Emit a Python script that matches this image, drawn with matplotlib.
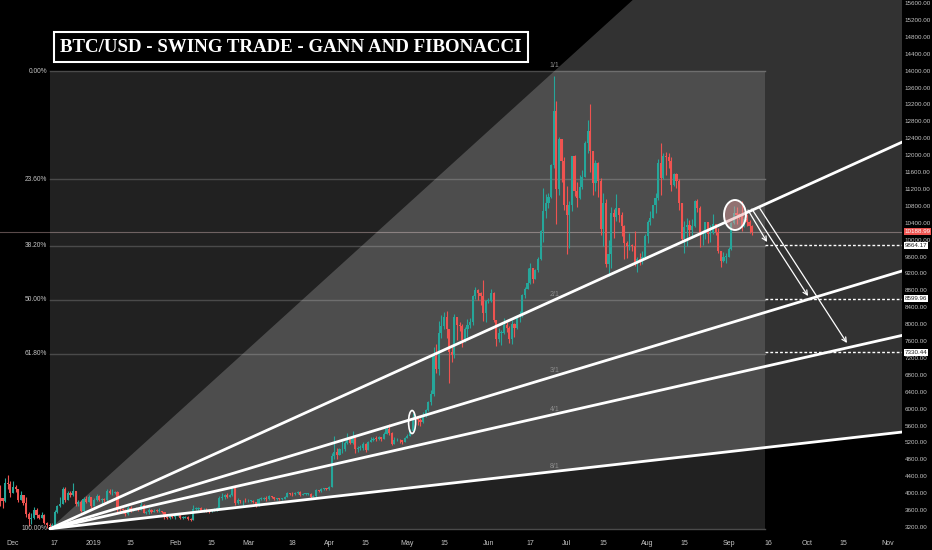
import numpy as np
import pandas as pd
import matplotlib
matplotlib.use("Agg")
import matplotlib.pyplot as plt
from matplotlib.patches import Rectangle, Polygon, Ellipse

plt.rcParams['font.family'] = ['Liberation Sans', 'DejaVu Sans']

# BTC/USD daily candles, 2018-11-26 .. 2019-09-10 (open = previous close)
start_open = 3930
close_nov = [3880, 3820, 4250, 4220, 4000]
high_nov = [4190, 3890, 4370, 4420, 4300]
low_nov = [3700, 3660, 3800, 4100, 3900]

close_dec = [4150, 4100, 3840, 3950, 3760, 3500, 3400, 3420, 3600, 3480,
             3420, 3480, 3300, 3250, 3220, 3240, 3550, 3700, 3750, 4100,
             3850, 4000, 3950, 4050, 3750, 3800, 3580, 3870, 3800, 3900, 3700]
high_dec = [4300, 4200, 4110, 4060, 3960, 3900, 3550, 3520, 3680, 3650,
            3510, 3550, 3500, 3320, 3290, 3300, 3600, 3720, 3900, 4140,
            4150, 4040, 4060, 4240, 4050, 3840, 3830, 3900, 3940, 3950, 3920]
low_dec = [4060, 4020, 3800, 3840, 3720, 3440, 3230, 3280, 3400, 3420,
           3380, 3420, 3270, 3180, 3160, 3200, 3220, 3520, 3680, 3740,
           3790, 3850, 3910, 3930, 3700, 3690, 3560, 3560, 3770, 3780, 3650]

close_jan = [3850, 3940, 3840, 3860, 3830, 4040, 4000, 4000, 4020, 3630,
             3620, 3600, 3500, 3660, 3580, 3620, 3650, 3610, 3720, 3540,
             3550, 3600, 3560, 3590, 3580, 3580, 3550, 3440, 3410, 3460, 3440]
high_jan = [3880, 3980, 3950, 3890, 3890, 4100, 4110, 4110, 4060, 4040,
            3700, 3650, 3620, 3700, 3690, 3660, 3680, 3660, 3780, 3740,
            3580, 3640, 3620, 3620, 3620, 3650, 3590, 3560, 3450, 3490, 3490]
low_jan = [3690, 3810, 3810, 3750, 3800, 3800, 3980, 3960, 3970, 3560,
           3560, 3540, 3470, 3490, 3560, 3570, 3600, 3580, 3600, 3520,
           3510, 3500, 3540, 3560, 3550, 3560, 3520, 3400, 3380, 3390, 3420]

close_feb = [3470, 3500, 3410, 3420, 3440, 3390, 3370, 3630, 3630, 3660,
             3590, 3610, 3590, 3570, 3580, 3610, 3660, 3880, 3900, 3960,
             3910, 3960, 4130, 3760, 3830, 3810, 3820, 3810]
high_feb = [3500, 3510, 3510, 3450, 3460, 3450, 3410, 3710, 3670, 3670,
            3670, 3640, 3640, 3610, 3630, 3650, 3680, 3930, 4000, 3990,
            4010, 3980, 4170, 4200, 3880, 3850, 3850, 3890]
low_feb = [3400, 3450, 3390, 3390, 3410, 3370, 3350, 3370, 3600, 3590,
           3580, 3560, 3560, 3530, 3560, 3590, 3590, 3660, 3840, 3870,
           3890, 3910, 3940, 3730, 3740, 3770, 3680, 3790]

close_mar = [3820, 3820, 3790, 3700, 3860, 3870, 3880, 3860, 3930, 3910,
             3860, 3870, 3860, 3870, 3920, 4000, 3980, 3970, 4000, 4030,
             3960, 3980, 3990, 3990, 3910, 3930, 4070, 4050, 4100, 4110, 4100]
high_mar = [3860, 3840, 3830, 3800, 3880, 3900, 3910, 3940, 3950, 3940,
            3920, 3890, 3880, 3890, 3940, 4030, 4010, 4020, 4020, 4050,
            4060, 4010, 4000, 4000, 4000, 3960, 4090, 4080, 4120, 4130, 4120]
low_mar = [3790, 3790, 3770, 3670, 3690, 3840, 3850, 3820, 3850, 3880,
           3840, 3830, 3840, 3840, 3860, 3920, 3960, 3940, 3950, 3980,
           3940, 3950, 3960, 3960, 3860, 3900, 3920, 4020, 4030, 4080, 4070]

close_apr = [4150, 4880, 4970, 4900, 5040, 5050, 5190, 5280, 5180, 5330,
             5050, 5080, 5080, 5160, 5030, 5210, 5250, 5290, 5280, 5330,
             5290, 5400, 5530, 5420, 5160, 5250, 5260, 5250, 5200, 5310]
high_apr = [4180, 4950, 5350, 5060, 5080, 5240, 5240, 5420, 5280, 5470,
            5350, 5110, 5150, 5200, 5180, 5240, 5320, 5340, 5350, 5350,
            5340, 5440, 5620, 5630, 5450, 5330, 5300, 5290, 5260, 5330]
low_apr = [4080, 4150, 4800, 4800, 4900, 4960, 5010, 5170, 5160, 5160,
           4950, 4980, 5030, 5030, 4980, 5030, 5220, 5240, 5230, 5270,
           5230, 5290, 5390, 5380, 5150, 5180, 5230, 5190, 5170, 5200]

close_may = [5360, 5480, 5750, 5760, 5720, 5680, 5830, 5970, 6150, 6350,
             7250, 6950, 7800, 7950, 8180, 7880, 7350, 7260, 8180, 7990,
             7950, 7630, 7880, 7990, 8050, 8670, 8800, 8730, 8660, 8260, 8550]
high_may = [5390, 5520, 5890, 5840, 5800, 5780, 5930, 6000, 6190, 6440,
            7450, 7540, 8070, 8220, 8280, 8300, 7890, 7480, 8250, 8180,
            8040, 8000, 7940, 8130, 8150, 8700, 8890, 8840, 8760, 9050, 8580]
low_may = [5300, 5350, 5470, 5620, 5620, 5580, 5660, 5810, 5940, 6090,
           6300, 6840, 6800, 7680, 7880, 7680, 6600, 7100, 7210, 7620,
           7840, 7460, 7580, 7690, 7900, 7990, 8600, 8570, 8460, 8070, 8040]

close_jun = [8550, 8740, 8100, 7650, 7790, 7800, 7990, 7910, 7640, 8000,
             7920, 8170, 8230, 8690, 8840, 8980, 9320, 9080, 9270, 9530,
             10210, 10680, 10860, 11020, 11760, 13050, 11200, 12370, 11870, 10820]
high_jun = [8630, 8830, 8750, 8100, 7920, 7860, 8140, 8050, 7950, 8090,
            8030, 8220, 8310, 8720, 8880, 9340, 9450, 9340, 9300, 9580,
            10220, 11220, 11080, 11100, 11790, 13880, 13270, 12440, 12380, 11950]
low_jun = [8490, 8530, 8060, 7490, 7580, 7500, 7760, 7820, 7560, 7530,
           7700, 7890, 8040, 8170, 8620, 8850, 8960, 8970, 9070, 9230,
           9520, 9950, 10520, 10740, 10990, 11690, 10370, 11060, 11370, 10710]

close_jul = [10580, 10810, 11970, 11150, 10980, 11250, 11480, 12290, 12570, 12100,
             11340, 11810, 11390, 10260, 10860, 9430, 9670, 10630, 10530, 10760,
             10590, 10330, 9910, 9840, 9880, 9850, 9480, 9530, 9510, 9590, 10090]
high_jul = [11260, 10920, 11980, 12000, 11360, 11540, 11640, 12330, 12820, 13200,
            12100, 11880, 11830, 11460, 11100, 10970, 9990, 10780, 10720, 11080,
            10760, 10660, 10350, 9960, 10160, 9900, 10200, 9580, 9680, 9740, 10130]
low_jul = [9650, 9800, 10680, 11040, 10770, 10960, 11200, 11480, 12040, 11600,
           11060, 11160, 11000, 10120, 9860, 9360, 9140, 9340, 10050, 10430,
           10410, 10080, 9530, 9560, 9760, 9720, 9380, 9230, 9390, 9420, 9590]

close_aug = [10410, 10520, 10820, 10980, 11810, 11460, 11980, 11960, 11860, 11290,
             11560, 11390, 10860, 10020, 10300, 10350, 10220, 10330, 10920, 10760,
             10130, 10130, 10410, 10140, 10150, 10360, 10170, 9720, 9500, 9590, 9600]
high_aug = [10460, 10670, 10830, 11100, 11910, 12280, 12040, 12080, 12040, 11960,
            11580, 11580, 11440, 10870, 10440, 10520, 10460, 10480, 10930, 10950,
            10790, 10230, 10420, 10410, 10350, 10600, 10380, 10270, 9720, 9700, 9680]
low_aug = [9920, 10340, 10510, 10630, 10940, 11050, 11430, 11540, 11700, 11150,
           11260, 11230, 10710, 9960, 9690, 9850, 10090, 10030, 10310, 10650,
           9830, 9880, 10020, 9910, 9940, 10140, 10110, 9690, 9350, 9460, 9450]

close_sep = [9770, 10390, 10620, 10590, 10580, 10320, 10490, 10410, 10330, 10189]
high_sep = [9830, 10420, 10800, 10780, 10640, 10910, 10530, 10600, 10470, 10350]
low_sep = [9590, 9750, 10370, 10380, 10500, 10200, 10300, 10330, 10150, 10110]

# fib retracement (anchors) and gann fan (origin / 1x1 point)
fib_low, fib_high = 3160, 13990
fib_levels = [0.0, 0.236, 0.382, 0.5, 0.618, 1.0]
fib_names = ["0.00%", "23.60%", "38.20%", "50.00%", "61.80%", "100.00%"]
fib_start, fib_end = "2018-12-15 05:00", "2019-09-14 22:00"
fan_origin = ("2018-12-15 05:00", 3160)
fan_one = ("2019-06-26 07:00", 13990)
fan_ratios = [2, 3, 4, 8]
target_prices = [9864.17, 8599.96, 7330.44]
target_labels = ["9864.17", "8599.96", "7330.44"]
last_price = 10188.99

price_ticks = list(range(3200, 15601, 400))
date_ticks = ["2018-12-01", "2018-12-17", "2019-01-01", "2019-01-15", "2019-02-01",
              "2019-02-15", "2019-03-01", "2019-03-18", "2019-04-01", "2019-04-15",
              "2019-05-01", "2019-05-15", "2019-06-01", "2019-06-17", "2019-07-01",
              "2019-07-15", "2019-08-01", "2019-08-15", "2019-09-01", "2019-09-16",
              "2019-10-01", "2019-10-15", "2019-11-01"]
date_tick_labels = ["Dec", "17", "2019", "15", "Feb", "15", "Mar", "18", "Apr", "15",
                    "May", "15", "Jun", "17", "Jul", "15", "Aug", "15", "Sep", "16",
                    "Oct", "15", "Nov"]

t0 = pd.Timestamp("2018-12-01")


def day(s):
    return (pd.Timestamp(s) - t0) / pd.Timedelta(days=1)


closes = np.array(close_nov + close_dec + close_jan + close_feb + close_mar + close_apr
                  + close_may + close_jun + close_jul + close_aug + close_sep, float)
highs = np.array(high_nov + high_dec + high_jan + high_feb + high_mar + high_apr
                 + high_may + high_jun + high_jul + high_aug + high_sep, float)
lows = np.array(low_nov + low_dec + low_jan + low_feb + low_mar + low_apr
                + low_may + low_jun + low_jul + low_aug + low_sep, float)
opens = np.concatenate([[start_open], closes[:-1]])
highs = np.maximum(highs, np.maximum(opens, closes))
lows = np.minimum(lows, np.minimum(opens, closes))
dates = pd.date_range("2018-11-26", periods=len(closes), freq="D")
xs = np.array([day(d) for d in dates])

UP, DOWN = "#26a69a", "#ef5350"
GREY = "#c4c4c4"

fig = plt.figure(figsize=(9.32, 5.5), dpi=100, facecolor="black")
ax = fig.add_axes([0, 13 / 550, 902 / 932, 537 / 550])
ax.set_facecolor("black")
ax.set_xlim(-4.98, 340.36)
ax.set_ylim(2963, 15671)
for s in ax.spines.values():
    s.set_visible(False)

# last price line
ax.axhline(last_price, color="#5a4a4a", lw=0.8, zorder=1.5)

# fib retracement box and levels
fx0, fx1 = day(fib_start), day(fib_end)
ax.add_patch(Rectangle((fx0, fib_low), fx1 - fx0, fib_high - fib_low,
                       facecolor="white", alpha=0.135, lw=0, zorder=1.6))
for lev, name in zip(fib_levels, fib_names):
    p = fib_high - lev * (fib_high - fib_low)
    ax.plot([fx0, fx1], [p, p], color="#4a4a4a", lw=1.0, zorder=1.7)
    ax.annotate(name, (fx0, p), xytext=(-2, 0), textcoords="offset points",
                ha="right", va="center", fontsize=4.8, color=GREY, zorder=6)

# gann fan
ox, oy = day(fan_origin[0]), fan_origin[1]
px1, py1 = day(fan_one[0]), fan_one[1]
far = 420


def fan_price(x, k):
    return oy + (py1 - oy) * (x - ox) / (px1 - ox) / k


ax.add_patch(Polygon([(ox, oy), (far, fan_price(far, 1)), (far, fan_price(far, 8))],
                     closed=True, facecolor="white", alpha=0.2, lw=0, zorder=2))

# candles (above the translucent fills, below the fan lines)
up = closes >= opens
cols = np.where(up, UP, DOWN)
ax.vlines(xs, lows, highs, colors=cols, lw=0.8, zorder=3)
body = np.abs(closes - opens)
body = np.maximum(body, 15)
ax.bar(xs, body, bottom=np.minimum(opens, closes), width=0.82, color=cols,
       linewidth=0, zorder=3)

for k in fan_ratios:
    ax.plot([ox, far], [oy, fan_price(far, k)], color="white", lw=2, zorder=4,
            solid_capstyle="round")
for k in [1] + fan_ratios:
    ax.text(px1, fan_price(px1, k) + 40, f"{k}/1", ha="center", va="bottom",
            fontsize=5, color="#8c8c8c", zorder=5)

# target levels (dashed) to the right of the fib box
for p in target_prices:
    ax.plot([fx1, 340.36], [p, p], color="white", lw=1, ls=(0, (2, 1.5)), zorder=4)

# highlight ellipses
ax.add_patch(Ellipse((day("2019-09-03 10:00"), 10583), 8.4, 710,
                     facecolor="#e8a0a0", alpha=0.45, lw=0, zorder=4.5))
ax.add_patch(Ellipse((day("2019-09-03 10:00"), 10583), 8.4, 710,
                     facecolor="none", edgecolor="white", lw=1.4, zorder=4.6))
ax.add_patch(Ellipse((day("2019-05-02 19:00"), 5684), 2.7, 545,
                     facecolor="none", edgecolor="white", lw=1.2, zorder=4.6))

# projection arrows
arrows = [((281.4, 10700), (288.7, 9943)),
          ((282.9, 10724), (304.4, 8665)),
          ((285.6, 10771), (319.3, 7553))]
for (a, b) in arrows:
    ax.annotate("", xy=b, xytext=a,
                arrowprops=dict(arrowstyle="->", color="white", lw=0.9,
                                shrinkA=0, shrinkB=0, mutation_scale=8),
                zorder=5)

# axes ticks
ax.yaxis.tick_right()
ax.set_yticks(price_ticks)
ax.set_yticklabels([f"{p:.2f}" for p in price_ticks])
ax.set_xticks([day(d) for d in date_ticks])
ax.set_xticklabels(date_tick_labels)
ax.tick_params(axis="both", length=0, labelsize=5, labelcolor=GREY)
ax.tick_params(axis="y", pad=1.8, labelsize=4.5)
ax.tick_params(axis="x", pad=2)

# price tags on the right scale
for p, lab in zip(target_prices, target_labels):
    ax.annotate(lab, (1.0, p), xycoords=("axes fraction", "data"), xytext=(1.8, 0),
                textcoords="offset points", ha="left", va="center", fontsize=4.5,
                color="#222222", annotation_clip=False, zorder=7,
                bbox=dict(boxstyle="square,pad=0.15", fc="white", ec="white", lw=0))
ax.annotate(f"{last_price:.2f}", (1.0, last_price), xycoords=("axes fraction", "data"),
            xytext=(1.8, 0), textcoords="offset points", ha="left", va="center",
            fontsize=4.5, color="white", annotation_clip=False, zorder=7,
            bbox=dict(boxstyle="square,pad=0.15", fc=DOWN, ec=DOWN, lw=0))

# title
fig.text(291 / 932, 1 - 47 / 550, "BTC/USD - SWING TRADE - GANN AND FIBONACCI",
         ha="center", va="center", fontsize=13.6, fontweight="bold",
         family="Liberation Serif", color="white",
         bbox=dict(boxstyle="square,pad=0.32", fc="black", ec="white", lw=1.5))

fig.savefig("out.png", dpi=100, facecolor="black")
